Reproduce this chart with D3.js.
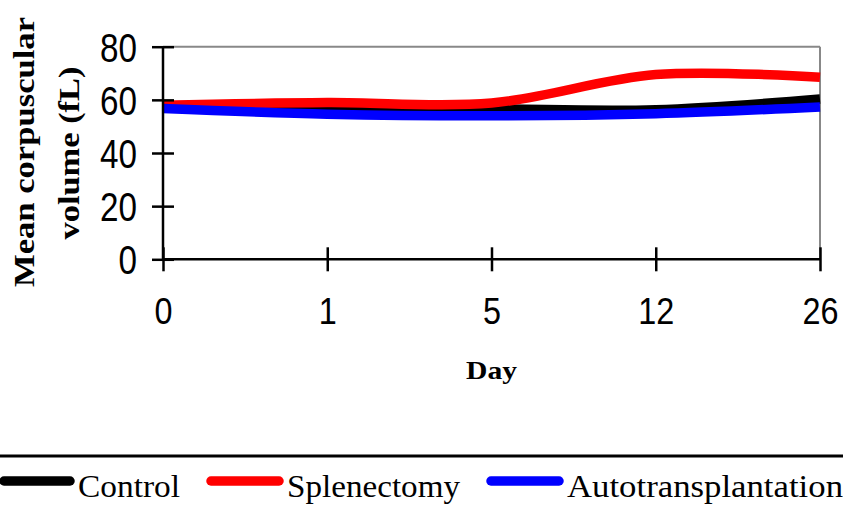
<!DOCTYPE html>
<html>
<head>
<meta charset="utf-8">
<script src="https://cdn.jsdelivr.net/npm/d3@7"></script>
<style>
  html, body { margin: 0; padding: 0; background: #fff; }
  svg { display: block; }
</style>
</head>
<body>
<svg id="chart" width="843" height="516"></svg>
<script>
// ---- data ----
const days = ["0", "1", "5", "12", "26"];
const control = [57.0, 57.0, 56.6, 56.3, 60.3];
const splenectomy = [58.0, 59.0, 58.8, 69.5, 68.5];
const autotransplantation = [56.7, 54.6, 54.0, 54.8, 57.3];
const yTicks = [0, 20, 40, 60, 80];
const seriesNames = ["Control", "Splenectomy", "Autotransplantation"];
const seriesColors = ["#000000", "#ff0000", "#0000ff"];

(function () {
// ---- layout ----
const svg = d3.select("#chart");
const pLeft = 163, pRight = 820, pTop = 46.7, pBottom = 259.3;
const x = d3.scalePoint().domain(days).range([pLeft, pRight]);
const y = d3.scaleLinear().domain([0, 80]).range([pBottom, pTop]);

const sans = "'Liberation Sans', Arial, sans-serif";
const serif = "'Liberation Serif', 'Times New Roman', serif";

// plot frame (gray top/right)
svg.append("line").attr("x1", pLeft).attr("x2", pRight).attr("y1", y(80)).attr("y2", y(80))
  .attr("stroke", "#888").attr("stroke-width", 2);
svg.append("line").attr("x1", pRight).attr("x2", pRight).attr("y1", y(80)).attr("y2", y(0))
  .attr("stroke", "#888").attr("stroke-width", 2);

// series lines
const data = [control, splenectomy, autotransplantation];
const line = d3.line()
  .x((d, i) => x(days[i]))
  .y(d => y(d))
  .curve(d3.curveCardinal.tension(0));
data.forEach((vals, k) => {
  svg.append("path")
    .attr("d", line(vals))
    .attr("fill", "none")
    .attr("stroke", seriesColors[k])
    .attr("stroke-width", 9.5)
    .attr("stroke-linecap", "butt")
    .attr("stroke-linejoin", "round");
});

// y axis
const yAxis = svg.append("g")
  .attr("transform", `translate(${pLeft},0)`)
  .call(d3.axisLeft(y).tickValues(yTicks).tickSize(11).tickFormat(d3.format("d")));
yAxis.select(".domain").attr("stroke", "#000").attr("stroke-width", 2.5)
  .attr("d", `M0,${y(80)}V${y(0)}`);
yAxis.selectAll(".tick line").attr("x1", -11).attr("x2", 11)
  .attr("stroke", "#000").attr("stroke-width", 2.5);
yAxis.selectAll(".tick text")
  .attr("x", -26).attr("dy", "0.36em")
  .attr("font-family", sans).attr("font-size", 40).attr("fill", "#000")
  .attr("textLength", d => String(d).length * 18.5)
  .attr("lengthAdjust", "spacingAndGlyphs");

// x axis
const xAxis = svg.append("g")
  .attr("transform", `translate(0,${pBottom})`)
  .call(d3.axisBottom(x).tickSize(12));
xAxis.select(".domain").attr("stroke", "#000").attr("stroke-width", 2.5)
  .attr("d", `M${pLeft},0H${pRight}`);
xAxis.selectAll(".tick line").attr("y1", -12).attr("y2", 12)
  .attr("stroke", "#000").attr("stroke-width", 2.5);
xAxis.selectAll(".tick text")
  .attr("y", 64.7).attr("dy", 0)
  .attr("font-family", sans).attr("font-size", 37).attr("fill", "#000")
  .attr("textLength", d => String(d).length * 18)
  .attr("lengthAdjust", "spacingAndGlyphs");

// axis titles
svg.append("text")
  .attr("x", (pLeft + pRight) / 2).attr("y", 379)
  .attr("text-anchor", "middle")
  .attr("font-family", serif).attr("font-weight", "bold").attr("font-size", 25)
  .attr("textLength", 51).attr("lengthAdjust", "spacingAndGlyphs")
  .text("Day");

const yTitle = svg.append("g").attr("transform", "translate(0,152) rotate(-90)");
yTitle.append("text")
  .attr("x", 0).attr("y", 34)
  .attr("text-anchor", "middle")
  .attr("font-family", serif).attr("font-weight", "bold").attr("font-size", 29)
  .attr("textLength", 270).attr("lengthAdjust", "spacingAndGlyphs")
  .text("Mean corpuscular");
yTitle.append("text")
  .attr("x", -1).attr("y", 79)
  .attr("text-anchor", "middle")
  .attr("font-family", serif).attr("font-weight", "bold").attr("font-size", 29)
  .attr("textLength", 173).attr("lengthAdjust", "spacingAndGlyphs")
  .text("volume (fL)");

// legend separator
svg.append("line").attr("x1", 0).attr("x2", 843).attr("y1", 456).attr("y2", 456)
  .attr("stroke", "#000").attr("stroke-width", 3);

// legend
const legendItems = [
  { x0: 4, x1: 70, tx: 78, tl: 102 },
  { x0: 211, x1: 279, tx: 287, tl: 173 },
  { x0: 491, x1: 559, tx: 567, tl: 276 }
];
legendItems.forEach((it, k) => {
  svg.append("line")
    .attr("x1", it.x0).attr("x2", it.x1).attr("y1", 481).attr("y2", 481)
    .attr("stroke", seriesColors[k]).attr("stroke-width", 9.5)
    .attr("stroke-linecap", "round");
  svg.append("text")
    .attr("x", it.tx).attr("y", 497)
    .attr("font-family", serif).attr("font-size", 32).attr("fill", "#000")
    .attr("textLength", it.tl).attr("lengthAdjust", "spacingAndGlyphs")
    .text(seriesNames[k]);
});
})();
</script>
</body>
</html>
